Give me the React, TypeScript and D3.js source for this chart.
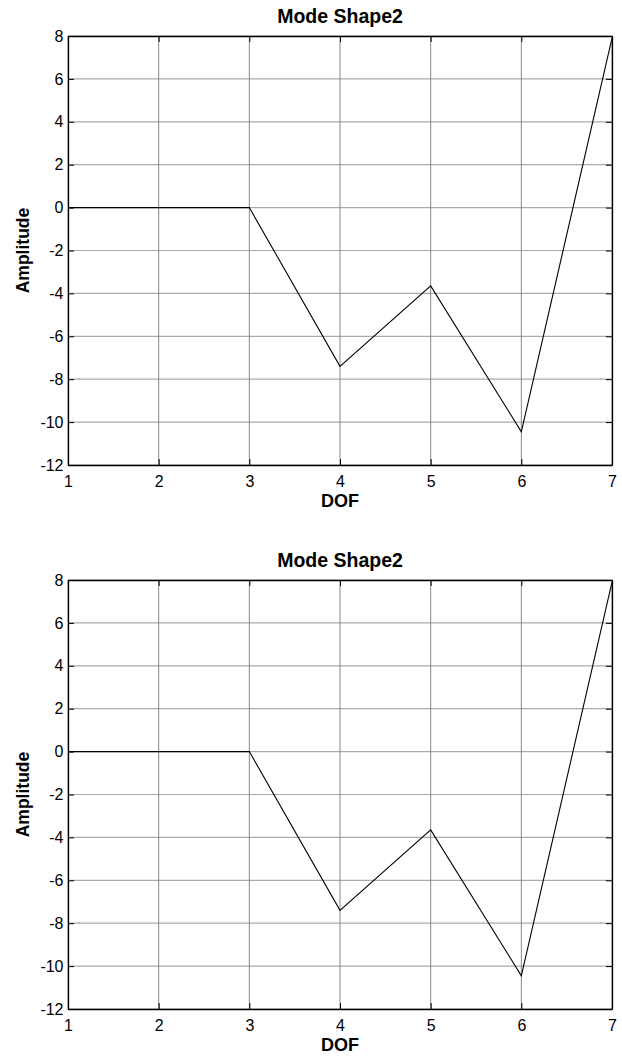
import React, { useEffect, useRef } from 'react';
import * as d3 from 'd3';

const dof = [1, 2, 3, 4, 5, 6, 7];
const amplitude = [0, 0, 0, -7.4, -3.65, -10.45, 7.9];
const xTicks = [1, 2, 3, 4, 5, 6, 7];
const yTicks = [8, 6, 4, 2, 0, -2, -4, -6, -8, -10, -12];
const titles = ['Mode Shape2', 'Mode Shape2'];

const App = () => {
  const ref = useRef<SVGSVGElement>(null);

  useEffect(() => {
    const svg = d3.select(ref.current);
    const width = 622;
    const height = 1057;
    const left = 68;
    const right = 612;
    const plotH = 429;
    const tops = [36, 580];
    const font = 'Liberation Sans, Arial, Helvetica, sans-serif';
    // matlab style: plain hyphen for negatives
    const fmt = (d) => String(d);

    svg.attr('width', width).attr('height', height);

    const x = d3.scaleLinear().domain([1, 7]).range([left, right]);

    tops.forEach((top, i) => {
      const y = d3.scaleLinear().domain([-12, 8]).range([top + plotH, top]);
      const g = svg.append('g');

      // grid
      g.append('g')
        .selectAll('line')
        .data(yTicks)
        .join('line')
        .attr('x1', left)
        .attr('x2', right)
        .attr('y1', (d) => y(d))
        .attr('y2', (d) => y(d))
        .attr('stroke', '#aaa')
        .attr('stroke-width', 1.2);

      g.append('g')
        .selectAll('line')
        .data(xTicks)
        .join('line')
        .attr('x1', (d) => x(d))
        .attr('x2', (d) => x(d))
        .attr('y1', top)
        .attr('y2', top + plotH)
        .attr('stroke', '#888')
        .attr('stroke-width', 1);

      // the data line
      const line = d3
        .line<number>()
        .x((_, j) => x(dof[j]))
        .y((d) => y(d));

      g.append('path')
        .datum(amplitude)
        .attr('d', line)
        .attr('fill', 'none')
        .attr('stroke', '#000')
        .attr('stroke-width', 1.1);

      // axes, ticks pointing inward
      const styleAxis = (sel) => {
        sel.selectAll('path').attr('stroke', '#000').attr('stroke-width', 1.3);
        sel.selectAll('line').attr('stroke', '#000');
        sel.selectAll('text')
          .attr('font-family', font)
          .attr('font-size', 16)
          .attr('fill', '#000');
      };

      g.append('g')
        .attr('transform', `translate(0,${top + plotH})`)
        .call(d3.axisBottom(x).tickValues(xTicks).tickSize(-6).tickSizeOuter(0).tickPadding(10.3).tickFormat(fmt))
        .call(styleAxis);

      g.append('g')
        .attr('transform', `translate(0,${top})`)
        .call(d3.axisTop(x).tickValues(xTicks).tickSize(-6).tickSizeOuter(0).tickFormat(() => ''))
        .call(styleAxis);

      g.append('g')
        .attr('transform', `translate(${left},0)`)
        .call(d3.axisLeft(y).tickValues(yTicks).tickSize(-6).tickSizeOuter(0).tickPadding(4.5).tickFormat(fmt))
        .call(styleAxis);

      g.append('g')
        .attr('transform', `translate(${right},0)`)
        .call(d3.axisRight(y).tickValues(yTicks).tickSize(-6).tickSizeOuter(0).tickFormat(() => ''))
        .call(styleAxis);

      g.selectAll('.domain').attr('fill', 'none');

      // labels
      g.append('text')
        .attr('x', (left + right) / 2)
        .attr('y', top - 13)
        .attr('text-anchor', 'middle')
        .attr('font-family', font)
        .attr('font-size', 19.5)
        .attr('font-weight', 'bold')
        .text(titles[i]);

      g.append('text')
        .attr('x', (left + right) / 2)
        .attr('y', top + plotH + 41.7)
        .attr('text-anchor', 'middle')
        .attr('font-family', font)
        .attr('font-size', 18)
        .attr('font-weight', 'bold')
        .text('DOF');

      g.append('text')
        .attr('transform', `translate(28.5,${top + plotH / 2}) rotate(-90)`)
        .attr('text-anchor', 'middle')
        .attr('font-family', font)
        .attr('font-size', 17.5)
        .attr('font-weight', 'bold')
        .text('Amplitude');
    });

    return () => {
      svg.selectAll('*').remove();
    };
  }, []);

  return <svg ref={ref} style={{ position: 'absolute', left: 0, top: 0, background: '#fff' }}></svg>;
};

export default App;
